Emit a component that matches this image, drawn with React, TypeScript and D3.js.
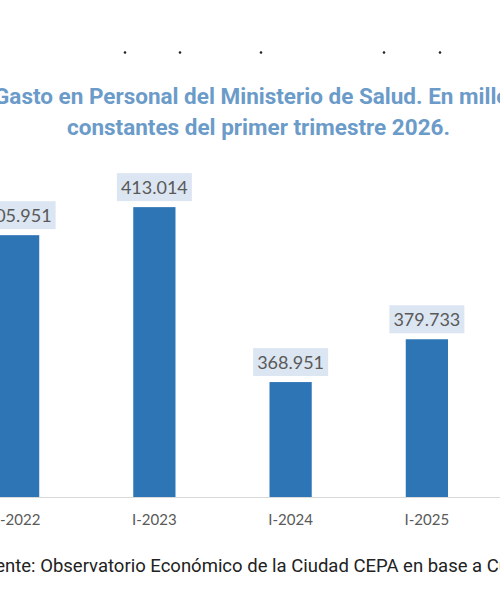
import * as d3 from "d3";

const categories = ["I-2022", "I-2023", "I-2024", "I-2025"];
const values = [405.951, 413.014, 368.951, 379.733];
const valueLabels = ["405.951", "413.014", "368.951", "379.733"];

const titleLines = [
  "Gasto en Personal del Ministerio de Salud. En millones de pesos",
  "constantes del primer trimestre 2026.",
];
const sourceText =
  "Fuente: Observatorio Económico de la Ciudad CEPA en base a Cuenta de Inversión";
// stray dots left over at the top of the screenshot
const dotsX = [125, 180, 261, 384, 440];

const width = 500;
const height = 600;
const baseY = 497;

const App = () => {
  const x = d3
    .scaleBand<string>()
    .domain(categories)
    .range([-50, 495])
    .paddingInner(0.69)
    .paddingOuter(0.345);

  const y = d3.scaleLinear().domain([340, 415]).range([baseY, baseY - 75 * 3.97]);

  const boxW = 75;
  const boxH = 28;

  return (
    <div style={{ position: "fixed", left: 0, top: 0 }}>
      <svg width={width} height={height} style={{ display: "block", background: "#fff" }}>
        {dotsX.map((dx, i) => (
          <circle key={i} cx={dx} cy={52.5} r={1.3} fill="#222" />
        ))}

        <g
          fill="#6b9bc9"
          fontFamily="Roboto, 'Noto Sans', sans-serif"
          fontWeight="bold"
          fontSize={22.5}
        >
          <text x={-6} y={104}>
            {titleLines[0]}
          </text>
          <text x={67} y={135}>
            {titleLines[1]}
          </text>
        </g>

        <line x1={0} x2={width} y1={baseY + 0.5} y2={baseY + 0.5} stroke="#d9d9d9" strokeWidth={1.2} />

        {categories.map((c, i) => {
          const bx = x(c) ?? 0;
          const cx = bx + x.bandwidth() / 2;
          const top = y(values[i]);
          return (
            <g key={c}>
              <rect x={bx} y={top} width={x.bandwidth()} height={baseY - top} fill="#2e75b6" />
              <rect
                x={cx - boxW / 2}
                y={top - 6 - boxH}
                width={boxW}
                height={boxH}
                fill="#dce6f2"
              />
              <text
                x={cx}
                y={top - 13}
                textAnchor="middle"
                fontFamily="Lato, 'Open Sans', sans-serif"
                fontSize={18}
                fill="#595959"
              >
                {valueLabels[i]}
              </text>
              <text
                x={cx}
                y={525}
                textAnchor="middle"
                fontFamily="Lato, 'Open Sans', sans-serif"
                fontSize={15}
                fill="#595959"
              >
                {c}
              </text>
            </g>
          );
        })}

        <text
          x={-25}
          y={572}
          fontFamily="Roboto, 'Noto Sans', sans-serif"
          fontSize={18.5}
          fill="#222"
        >
          {sourceText}
        </text>
      </svg>
    </div>
  );
};

export default App;
